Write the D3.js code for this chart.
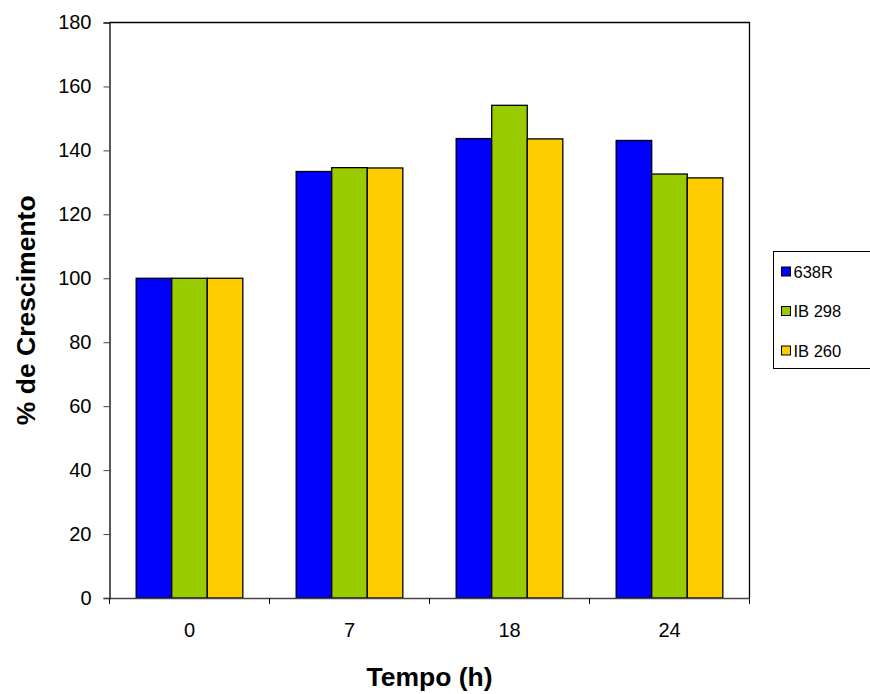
<!DOCTYPE html>
<html>
<head>
<meta charset="utf-8">
<script src="https://cdn.jsdelivr.net/npm/d3@7"></script>
<style>
  body { margin: 0; background: #fff; }
  svg text { font-family: "Liberation Sans", Arial, sans-serif; fill: #000; }
  .tick text { font-size: 20px; }
  .unit { font-size: 26.5px; font-weight: bold; }
  .legend-texts { font-size: 16.5px; }
</style>
</head>
<body>
<div id="svg-container"></div>
<script>
// data
const categories = ["0", "7", "18", "24"];
const series = ["638R", "IB 298", "IB 260"];
const values638R = [100, 133.4, 143.7, 143.1];
const valuesIB298 = [100, 134.6, 154.1, 132.6];
const valuesIB260 = [100, 134.5, 143.6, 131.4];
const yTicks = [0, 20, 40, 60, 80, 100, 120, 140, 160, 180];
const colors = ["#0000ff", "#99cc00", "#ffcc00"];

const width = 870;
const height = 694;
const margin = { top: 22.5, right: 120.5, bottom: 96, left: 109.5 };

const svg = d3.select("#svg-container").append("svg")
  .attr("width", width).attr("height", height);

const table = categories.map((c, i) => ({
  cat: c,
  vals: [values638R[i], valuesIB298[i], valuesIB260[i]]
}));

// scales
const xScale = d3.scaleBand().domain(categories)
  .range([margin.left, width - margin.right]);
const yScale = d3.scaleLinear().domain([0, 180])
  .range([height - margin.bottom, margin.top]);
const groupWidth = xScale.bandwidth() * 2 / 3;
const xInner = d3.scaleBand().domain(series).range([0, groupWidth]);
const colorScale = d3.scaleOrdinal().domain(series).range(colors);

// plot border (top/right)
svg.append("path")
  .attr("d", `M${margin.left},${margin.top}H${width - margin.right}V${height - margin.bottom}`)
  .attr("fill", "none").attr("stroke", "#000").attr("stroke-width", 1.3);

// bars
const groups = svg.selectAll(".group").data(table).enter().append("g")
  .attr("transform", d => `translate(${xScale(d.cat) + (xScale.bandwidth() - groupWidth) / 2},0)`);

groups.selectAll("rect")
  .data(d => d.vals.map((v, j) => ({ s: series[j], v })))
  .enter().append("rect")
  .attr("x", d => xInner(d.s))
  .attr("y", d => yScale(d.v))
  .attr("width", xInner.bandwidth())
  .attr("height", d => yScale(0) - yScale(d.v))
  .attr("fill", d => colorScale(d.s))
  .attr("stroke", "#000").attr("stroke-width", 1.3);

// axes
const xAxis = d3.axisBottom(xScale).tickSize(0).tickPadding(25);
const gx = svg.append("g").attr("class", "x-axis")
  .attr("transform", `translate(0,${height - margin.bottom})`)
  .call(xAxis);
gx.select(".domain").attr("stroke", "#444").attr("stroke-width", 1.3);
// category separator ticks
gx.selectAll(".sep")
  .data(categories.concat(["end"]))
  .enter().append("line")
  .attr("x1", (d, i) => i < categories.length ? xScale(d) : width - margin.right)
  .attr("x2", (d, i) => i < categories.length ? xScale(d) : width - margin.right)
  .attr("y1", 0).attr("y2", 6)
  .attr("stroke", "#000");

const yAxis = d3.axisLeft(yScale).tickValues(yTicks).tickSize(6).tickPadding(12);
const gy = svg.append("g").attr("class", "y-axis")
  .attr("transform", `translate(${margin.left},0)`)
  .call(yAxis);
gy.select(".domain").attr("stroke", "#000").attr("stroke-width", 1.3);
gy.selectAll(".tick line").attr("stroke", "#444");

// units
svg.append("text")
  .attr("class", "unit")
  .attr("text-anchor", "middle")
  .attr("transform", `translate(${(margin.left + width - margin.right) / 2}, 686)`)
  .text("Tempo (h)");

svg.append("text")
  .attr("class", "unit")
  .attr("text-anchor", "middle")
  .attr("transform", `translate(35, ${(margin.top + height - margin.bottom) / 2}) rotate(-90)`)
  .text("% de Crescimento");

// legend
const legend = svg.append("g").attr("transform", "translate(773.5,251.5)");
legend.append("rect")
  .attr("width", 110).attr("height", 117)
  .attr("fill", "#fff").attr("stroke", "#000");
legend.selectAll("legend-rects").data(series).enter().append("rect")
  .attr("x", 8).attr("y", (d, i) => 15.5 + 39.5 * i)
  .attr("width", 9).attr("height", 9)
  .attr("fill", d => colorScale(d)).attr("stroke", "#000");
legend.selectAll("legend-texts").data(series).enter().append("text")
  .attr("class", "legend-texts")
  .attr("x", 20).attr("y", (d, i) => 26 + 39.5 * i)
  .text(d => d);
</script>
</body>
</html>
